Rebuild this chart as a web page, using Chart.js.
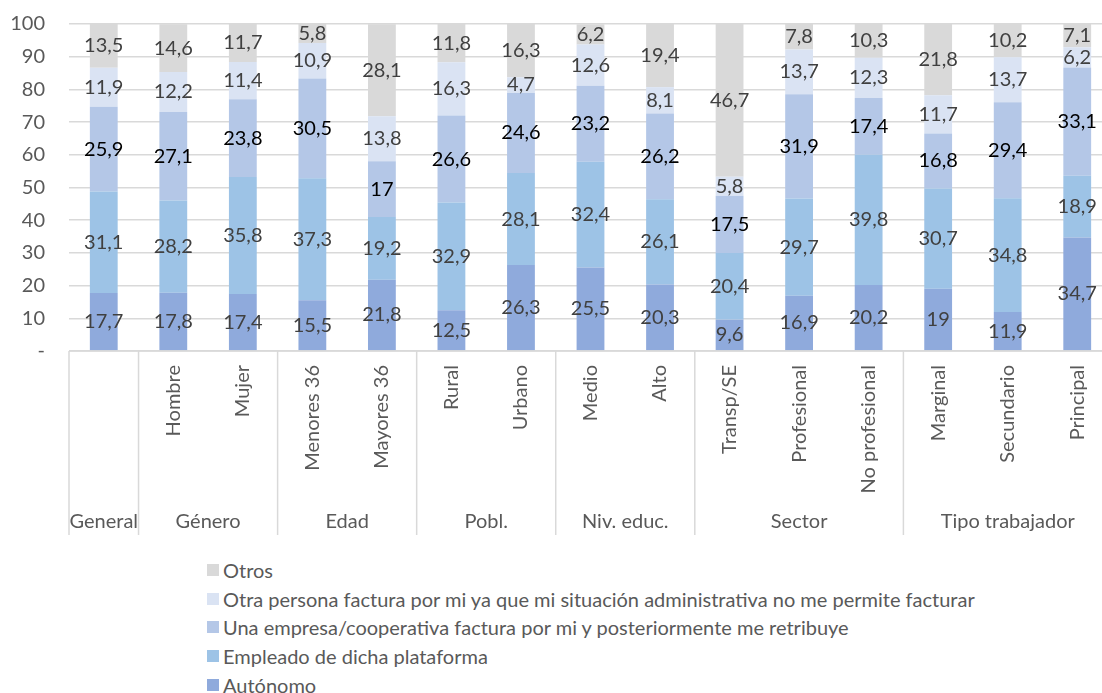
<!DOCTYPE html>
<html>
<head>
<meta charset="utf-8">
<script src="https://cdn.jsdelivr.net/npm/chart.js@4.4.0/dist/chart.umd.min.js"></script>
<style>
  html, body { margin: 0; padding: 0; background: #fff; overflow: hidden; }
  #contenedor { position: relative; width: 1120px; height: 693px; }
  #grafica { position: absolute; left: 0; top: 0; }
  #leyenda { position: absolute; left: 207px; top: 556px; font-family: Lato, sans-serif; font-size: 20px; color: #595959; }
  .item { display: flex; align-items: center; height: 28.6px; white-space: nowrap; }
  .caja { width: 12px; height: 12px; margin-right: 4px; flex: none; }
</style>
</head>
<body>
<div id="contenedor">
  <canvas id="grafica" width="1120" height="540"></canvas>
  <div id="leyenda"></div>
</div>
<script>
const FUENTE = "Lato, sans-serif";

// ======= DATOS =======
const categorias = ["", "Hombre", "Mujer", "Menores 36", "Mayores 36", "Rural", "Urbano", "Medio", "Alto",
  "Transp/SE", "Profesional", "No profesional", "Marginal", "Secundario", "Principal"];
const grupos = ["General", "Género", "Edad", "Pobl.", "Niv. educ.", "Sector", "Tipo trabajador"];
const tamGrupos = [1, 2, 2, 2, 2, 3, 3];

const autonomo = [17.7, 17.8, 17.4, 15.5, 21.8, 12.5, 26.3, 25.5, 20.3, 9.6, 16.9, 20.2, 19, 11.9, 34.7];
const empleado = [31.1, 28.2, 35.8, 37.3, 19.2, 32.9, 28.1, 32.4, 26.1, 20.4, 29.7, 39.8, 30.7, 34.8, 18.9];
const empresa = [25.9, 27.1, 23.8, 30.5, 17, 26.6, 24.6, 23.2, 26.2, 17.5, 31.9, 17.4, 16.8, 29.4, 33.1];
const otraPersona = [11.9, 12.2, 11.4, 10.9, 13.8, 16.3, 4.7, 12.6, 8.1, 5.8, 13.7, 12.3, 11.7, 13.7, 6.2];
const otros = [13.5, 14.6, 11.7, 5.8, 28.1, 11.8, 16.3, 6.2, 19.4, 46.7, 7.8, 10.3, 21.8, 10.2, 7.1];

const series = [
  { label: "Autónomo", data: autonomo, color: "#8faadc", texto: "#404040" },
  { label: "Empleado de dicha plataforma", data: empleado, color: "#9dc3e6", texto: "#404040" },
  { label: "Una empresa/cooperativa factura por mi y posteriormente me retribuye", data: empresa, color: "#b4c7e7", texto: "#000000" },
  { label: "Otra persona factura por mi ya que mi situación administrativa no me permite facturar", data: otraPersona, color: "#dae3f3", texto: "#404040" },
  { label: "Otros", data: otros, color: "#d9d9d9", texto: "#404040" }
];

// ======= PLUGINS =======
const etiquetasDatos = {
  id: "etiquetasDatos",
  afterDatasetsDraw(chart) {
    const ctx = chart.ctx;
    ctx.save();
    ctx.font = "20px " + FUENTE;
    ctx.textAlign = "center";
    ctx.textBaseline = "middle";
    chart.data.datasets.forEach((ds, i) => {
      const meta = chart.getDatasetMeta(i);
      meta.data.forEach((el, j) => {
        const v = ds.data[j];
        const top = Math.max(el.y, chart.chartArea.top);
        ctx.fillStyle = series[i].texto;
        ctx.fillText(String(v).replace(".", ","), el.x, (top + el.base) / 2);
      });
    });
    ctx.restore();
  }
};

const ejeGrupos = {
  id: "ejeGrupos",
  afterDraw(chart) {
    const ctx = chart.ctx;
    const area = chart.chartArea;
    const x = chart.scales.x;
    const paso = (area.right - area.left) / categorias.length;
    ctx.save();
    ctx.strokeStyle = "#d9d9d9";
    ctx.lineWidth = 1.5;
    ctx.beginPath();
    ctx.moveTo(area.left, area.bottom);
    ctx.lineTo(area.right, area.bottom);
    ctx.moveTo(area.left, area.bottom);
    ctx.lineTo(area.left, 535);
    ctx.stroke();
    ctx.font = "20px " + FUENTE;
    ctx.fillStyle = "#595959";
    ctx.textAlign = "center";
    ctx.textBaseline = "middle";
    let inicio = 0;
    tamGrupos.forEach((n, g) => {
      const x0 = x.getPixelForValue(inicio) - paso / 2;
      const x1 = x.getPixelForValue(inicio + n - 1) + paso / 2;
      ctx.beginPath();
      ctx.moveTo(x1, area.bottom);
      ctx.lineTo(x1, 535);
      ctx.stroke();
      ctx.fillText(grupos[g], (x0 + x1) / 2, 522);
      inicio += n;
    });
    ctx.restore();
  }
};

// ======= GRAFICA =======
const ctx = document.getElementById("grafica").getContext("2d");
const grafica = new Chart(ctx, {
  type: "bar",
  data: {
    labels: categorias,
    datasets: series.map(s => ({
      label: s.label,
      data: s.data,
      backgroundColor: s.color,
      borderWidth: 0,
      barPercentage: 0.4,
      categoryPercentage: 1
    }))
  },
  options: {
    responsive: false,
    animation: false,
    layout: { padding: { top: 24, right: 8, left: 0, bottom: 0 } },
    plugins: {
      legend: { display: false },
      tooltip: { enabled: false }
    },
    scales: {
      x: {
        stacked: true,
        grid: { display: false, drawTicks: false },
        border: { display: false },
        ticks: {
          autoSkip: false,
          minRotation: 90,
          maxRotation: 90,
          padding: 14,
          color: "#595959",
          font: { family: FUENTE, size: 20 }
        },
        afterFit(scale) { scale.height = 189; scale.paddingTop = 0; }
      },
      y: {
        stacked: true,
        min: 0,
        max: 100,
        grid: { color: "#d9d9d9", lineWidth: 1.5, drawTicks: false },
        border: { display: false },
        ticks: {
          stepSize: 10,
          padding: 24,
          color: "#595959",
          font: { family: FUENTE, size: 20 },
          callback: v => v === 0 ? "-" : v
        },
        afterFit(scale) { scale.width = 69; scale.paddingTop = 0; scale.paddingBottom = 0; }
      }
    }
  },
  plugins: [etiquetasDatos, ejeGrupos]
});

// ======= LEYENDA =======
const leyenda = document.getElementById("leyenda");
series.slice().reverse().forEach(s => {
  const item = document.createElement("div");
  item.className = "item";
  item.innerHTML = `<span class="caja" style="background:${s.color}"></span><span>${s.label}</span>`;
  leyenda.appendChild(item);
});
</script>
</body>
</html>
